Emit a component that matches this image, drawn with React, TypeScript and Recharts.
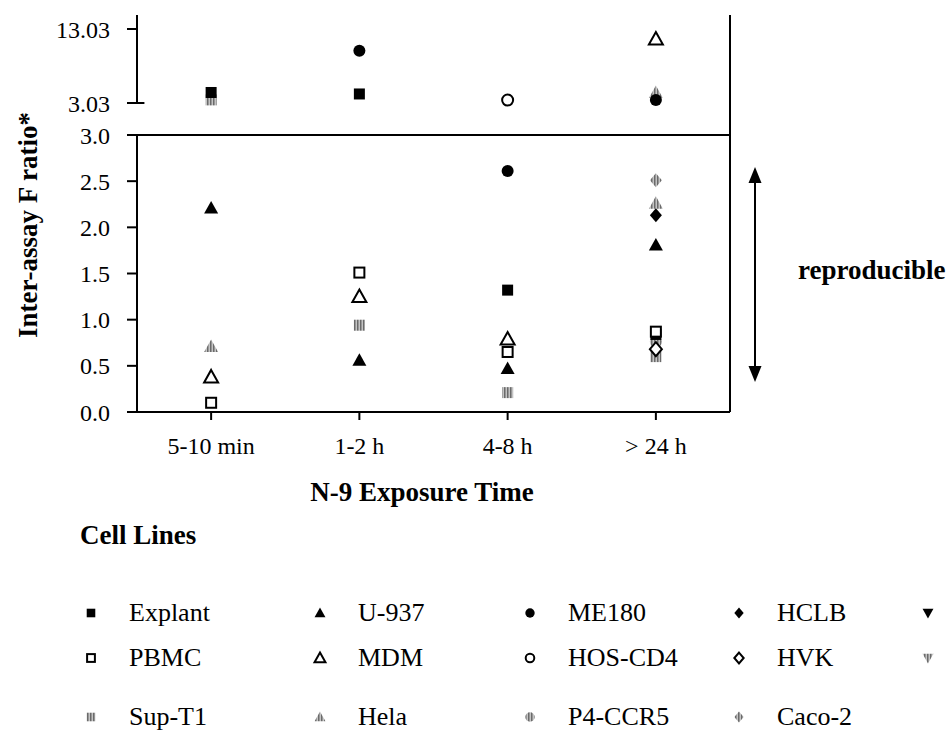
import { ReferenceLine, Scatter, ScatterChart, XAxis, YAxis } from "recharts";

const FONT = '"Liberation Serif", "Times New Roman", serif';

// categories on the x axis
const exposureTimes = ["5-10 min", "1-2 h", "4-8 h", "> 24 h"];

// tick labels
const lowerTicks = [0, 0.5, 1, 1.5, 2, 2.5, 3];
const upperTicks = [3.03, 13.03];

// F ratios per cell line, one slot per exposure time (null = no point)
// lower panel (0 - 3) and upper panel (> 3)
const explantLow = [null, null, 1.32, 0.84];
const explantHigh = [4.45, 4.25, null, null];
const pbmcLow = [0.1, 1.51, 0.65, 0.87];
const supT1Low = [null, 0.94, 0.21, 0.6];
const supT1High = [3.45, null, null, null];
const u937Low = [2.21, 0.56, 0.47, 1.81];
const mdmLow = [0.38, 1.25, 0.79, null];
const mdmHigh = [null, null, null, 11.68];
const helaLow = [0.71, null, null, 2.26];
const helaHigh = [null, null, null, 4.45];
const me180Low = [null, null, 2.61, null];
const me180High = [null, 10.1, null, 3.43];
const hosCd4High = [null, null, 3.43, null];
const p4Ccr5Low = [null, null, null, 0.76];
const hclbLow = [null, null, null, 2.13];
const hvkLow = [null, null, null, 0.68];
const caco2Low = [null, null, null, 2.51];

type Kind =
  | "sq" | "sqo" | "sqg"
  | "tri" | "trio" | "trig"
  | "cir" | "ciro" | "cirg"
  | "dia" | "diao" | "diag"
  | "itri" | "itrig";

function toPoints(vals: (number | null)[]) {
  const pts: { x: number; y: number }[] = [];
  vals.forEach((v, i) => {
    if (v != null) pts.push({ x: i, y: v });
  });
  return pts;
}

function Marker({ kind, cx, cy, s = 1 }: { kind: Kind; cx: number; cy: number; s?: number }) {
  const gray = kind.endsWith("g");
  const open = kind.endsWith("o");
  const fill = gray ? "url(#hatch)" : open ? "#fff" : "#000";
  const stroke = open ? "#000" : "none";
  const sw = open ? 2 : 0;
  const base = kind.replace(/[og]$/, "");
  if (base === "sq") {
    const h = (open ? 5 : 5.5) * s;
    return <rect x={cx - h} y={cy - h} width={2 * h} height={2 * h} fill={fill} stroke={stroke} strokeWidth={sw} />;
  }
  if (base === "cir") {
    return <circle cx={cx} cy={cy} r={(open ? 5.5 : 6) * s} fill={fill} stroke={stroke} strokeWidth={sw} />;
  }
  if (base === "tri") {
    const p = `${cx},${cy - 7 * s} ${cx + 7 * s},${cy + 5.5 * s} ${cx - 7 * s},${cy + 5.5 * s}`;
    return <polygon points={p} fill={fill} stroke={stroke} strokeWidth={sw} />;
  }
  if (base === "itri") {
    const p = `${cx},${cy + 7 * s} ${cx + 7 * s},${cy - 5.5 * s} ${cx - 7 * s},${cy - 5.5 * s}`;
    return <polygon points={p} fill={fill} stroke={stroke} strokeWidth={sw} />;
  }
  const p = `${cx},${cy - 7 * s} ${cx + 6 * s},${cy} ${cx},${cy + 7 * s} ${cx - 6 * s},${cy}`;
  return <polygon points={p} fill={fill} stroke={stroke} strokeWidth={sw} />;
}

const lowerSeries: { name: string; kind: Kind; vals: (number | null)[] }[] = [
  { name: "Sup-T1", kind: "sqg", vals: supT1Low },
  { name: "Hela", kind: "trig", vals: helaLow },
  { name: "P4-CCR5", kind: "cirg", vals: p4Ccr5Low },
  { name: "Caco-2", kind: "diag", vals: caco2Low },
  { name: "HVK", kind: "diao", vals: hvkLow },
  { name: "HCLB", kind: "dia", vals: hclbLow },
  { name: "Explant", kind: "sq", vals: explantLow },
  { name: "PBMC", kind: "sqo", vals: pbmcLow },
  { name: "U-937", kind: "tri", vals: u937Low },
  { name: "MDM", kind: "trio", vals: mdmLow },
  { name: "ME180", kind: "cir", vals: me180Low },
];

const upperSeries: { name: string; kind: Kind; vals: (number | null)[] }[] = [
  { name: "Sup-T1", kind: "sqg", vals: supT1High },
  { name: "Hela", kind: "trig", vals: helaHigh },
  { name: "Explant", kind: "sq", vals: explantHigh },
  { name: "MDM", kind: "trio", vals: mdmHigh },
  { name: "ME180", kind: "cir", vals: me180High },
  { name: "HOS-CD4", kind: "ciro", vals: hosCd4High },
];

// legend rows as printed (last column labels run off the page)
const legendRows: { kind: Kind; label: string }[][] = [
  [
    { kind: "sq", label: "Explant" },
    { kind: "tri", label: "U-937" },
    { kind: "cir", label: "ME180" },
    { kind: "dia", label: "HCLB" },
    { kind: "itri", label: "" },
  ],
  [
    { kind: "sqo", label: "PBMC" },
    { kind: "trio", label: "MDM" },
    { kind: "ciro", label: "HOS-CD4" },
    { kind: "diao", label: "HVK" },
    { kind: "itrig", label: "" },
  ],
  [
    { kind: "sqg", label: "Sup-T1" },
    { kind: "trig", label: "Hela" },
    { kind: "cirg", label: "P4-CCR5" },
    { kind: "diag", label: "Caco-2" },
  ],
];
const legendMarkerX = [91, 320, 530, 739, 928];
const legendRowY = [613, 658, 717];

const tickStyle = { fill: "#000", fontSize: 24, fontFamily: FONT };
const axisStroke = { stroke: "#000", strokeWidth: 2 };

export default function App() {
  return (
    <div
      style={{
        position: "absolute",
        left: 0,
        top: 0,
        width: 952,
        height: 734,
        background: "#fff",
        overflow: "hidden",
        fontFamily: FONT,
        color: "#000",
      }}
    >
      <svg width={0} height={0} style={{ position: "absolute" }}>
        <defs>
          <pattern id="hatch" width={3} height={3} patternUnits="userSpaceOnUse">
            <rect width={3} height={3} fill="#c4c4c4" />
            <rect width={1.5} height={3} fill="#6a6a6a" />
          </pattern>
        </defs>
      </svg>

      {/* upper panel */}
      <div style={{ position: "absolute", left: 0, top: 0 }}>
        <ScatterChart width={952} height={140} margin={{ top: 15, right: 222, bottom: 5, left: 0 }}>
          <XAxis type="number" dataKey="x" domain={[-0.5, 3.5]} hide allowDataOverflow />
          <YAxis
            type="number"
            dataKey="y"
            domain={[-1.294, 14.92]}
            ticks={upperTicks}
            allowDataOverflow
            width={137}
            axisLine={false}
            tickLine={axisStroke}
            tickSize={10}
            tickMargin={17}
            tick={tickStyle}
            tickFormatter={(v: number) => v.toFixed(2)}
          />
          <ReferenceLine segment={[{ x: -0.5, y: 3.03 }, { x: -0.5, y: 14.92 }]} {...axisStroke} />
          <ReferenceLine segment={[{ x: -0.5, y: 3.03 }, { x: -0.45, y: 3.03 }]} {...axisStroke} />
          <ReferenceLine x={3.5} {...axisStroke} />
          {upperSeries.map((s) => (
            <Scatter
              key={s.name}
              name={s.name}
              data={toPoints(s.vals)}
              isAnimationActive={false}
              shape={(p: any) => <Marker kind={s.kind} cx={p.cx} cy={p.cy} />}
            />
          ))}
        </ScatterChart>
      </div>

      {/* lower panel */}
      <div style={{ position: "absolute", left: 0, top: 120 }}>
        <ScatterChart width={952} height={352} margin={{ top: 15, right: 222, bottom: 0, left: 0 }}>
          <XAxis
            type="number"
            dataKey="x"
            domain={[-0.5, 3.5]}
            ticks={[0, 1, 2, 3]}
            allowDataOverflow
            height={60}
            axisLine={axisStroke}
            tickLine={axisStroke}
            tickSize={8}
            tickMargin={17}
            tick={tickStyle}
            tickFormatter={(i: number) => exposureTimes[i]}
          />
          <YAxis
            type="number"
            dataKey="y"
            domain={[0, 3]}
            ticks={lowerTicks}
            allowDataOverflow
            width={137}
            axisLine={axisStroke}
            tickLine={axisStroke}
            tickSize={10}
            tickMargin={17}
            tick={tickStyle}
            tickFormatter={(v: number) => v.toFixed(1)}
          />
          <ReferenceLine y={3} {...axisStroke} />
          <ReferenceLine x={3.5} {...axisStroke} />
          {lowerSeries.map((s) => (
            <Scatter
              key={s.name}
              name={s.name}
              data={toPoints(s.vals)}
              isAnimationActive={false}
              shape={(p: any) => <Marker kind={s.kind} cx={p.cx} cy={p.cy} />}
            />
          ))}
        </ScatterChart>
      </div>

      {/* y axis title */}
      <div
        style={{
          position: "absolute",
          left: 28,
          top: 225,
          transform: "translate(-50%, -50%) rotate(-90deg)",
          whiteSpace: "nowrap",
          fontWeight: "bold",
          fontSize: 27,
          lineHeight: "27px",
        }}
      >
        Inter-assay F ratio*
      </div>

      {/* reproducible range arrow */}
      <svg width={952} height={734} style={{ position: "absolute", left: 0, top: 0, pointerEvents: "none" }}>
        <line x1={755} y1={180} x2={755} y2={369} stroke="#000" strokeWidth={2} />
        <polygon points="755,167 748.5,183 761.5,183" fill="#000" />
        <polygon points="755,382 748.5,366 761.5,366" fill="#000" />
      </svg>
      <div style={{ position: "absolute", left: 798, top: 257, fontWeight: "bold", fontSize: 27, lineHeight: "27px", whiteSpace: "nowrap" }}>
        reproducible
      </div>

      {/* x axis title */}
      <div
        style={{
          position: "absolute",
          left: 422,
          top: 479,
          transform: "translateX(-50%)",
          fontWeight: "bold",
          fontSize: 27,
          lineHeight: "27px",
          whiteSpace: "nowrap",
        }}
      >
        N-9 Exposure Time
      </div>

      {/* legend */}
      <div style={{ position: "absolute", left: 80, top: 522, fontWeight: "bold", fontSize: 27, lineHeight: "27px", whiteSpace: "nowrap" }}>
        Cell Lines
      </div>
      <svg width={952} height={734} style={{ position: "absolute", left: 0, top: 0, pointerEvents: "none" }}>
        {legendRows.map((row, r) =>
          row.map((item, c) => (
            <Marker key={`${r}-${c}`} kind={item.kind} cx={legendMarkerX[c]} cy={legendRowY[r]} s={0.78} />
          ))
        )}
      </svg>
      {legendRows.map((row, r) =>
        row.map((item, c) =>
          item.label ? (
            <div
              key={`t${r}-${c}`}
              style={{
                position: "absolute",
                left: legendMarkerX[c] + 38,
                top: legendRowY[r] - 13,
                fontSize: 26,
                lineHeight: "26px",
                whiteSpace: "nowrap",
              }}
            >
              {item.label}
            </div>
          ) : null
        )
      )}
    </div>
  );
}
